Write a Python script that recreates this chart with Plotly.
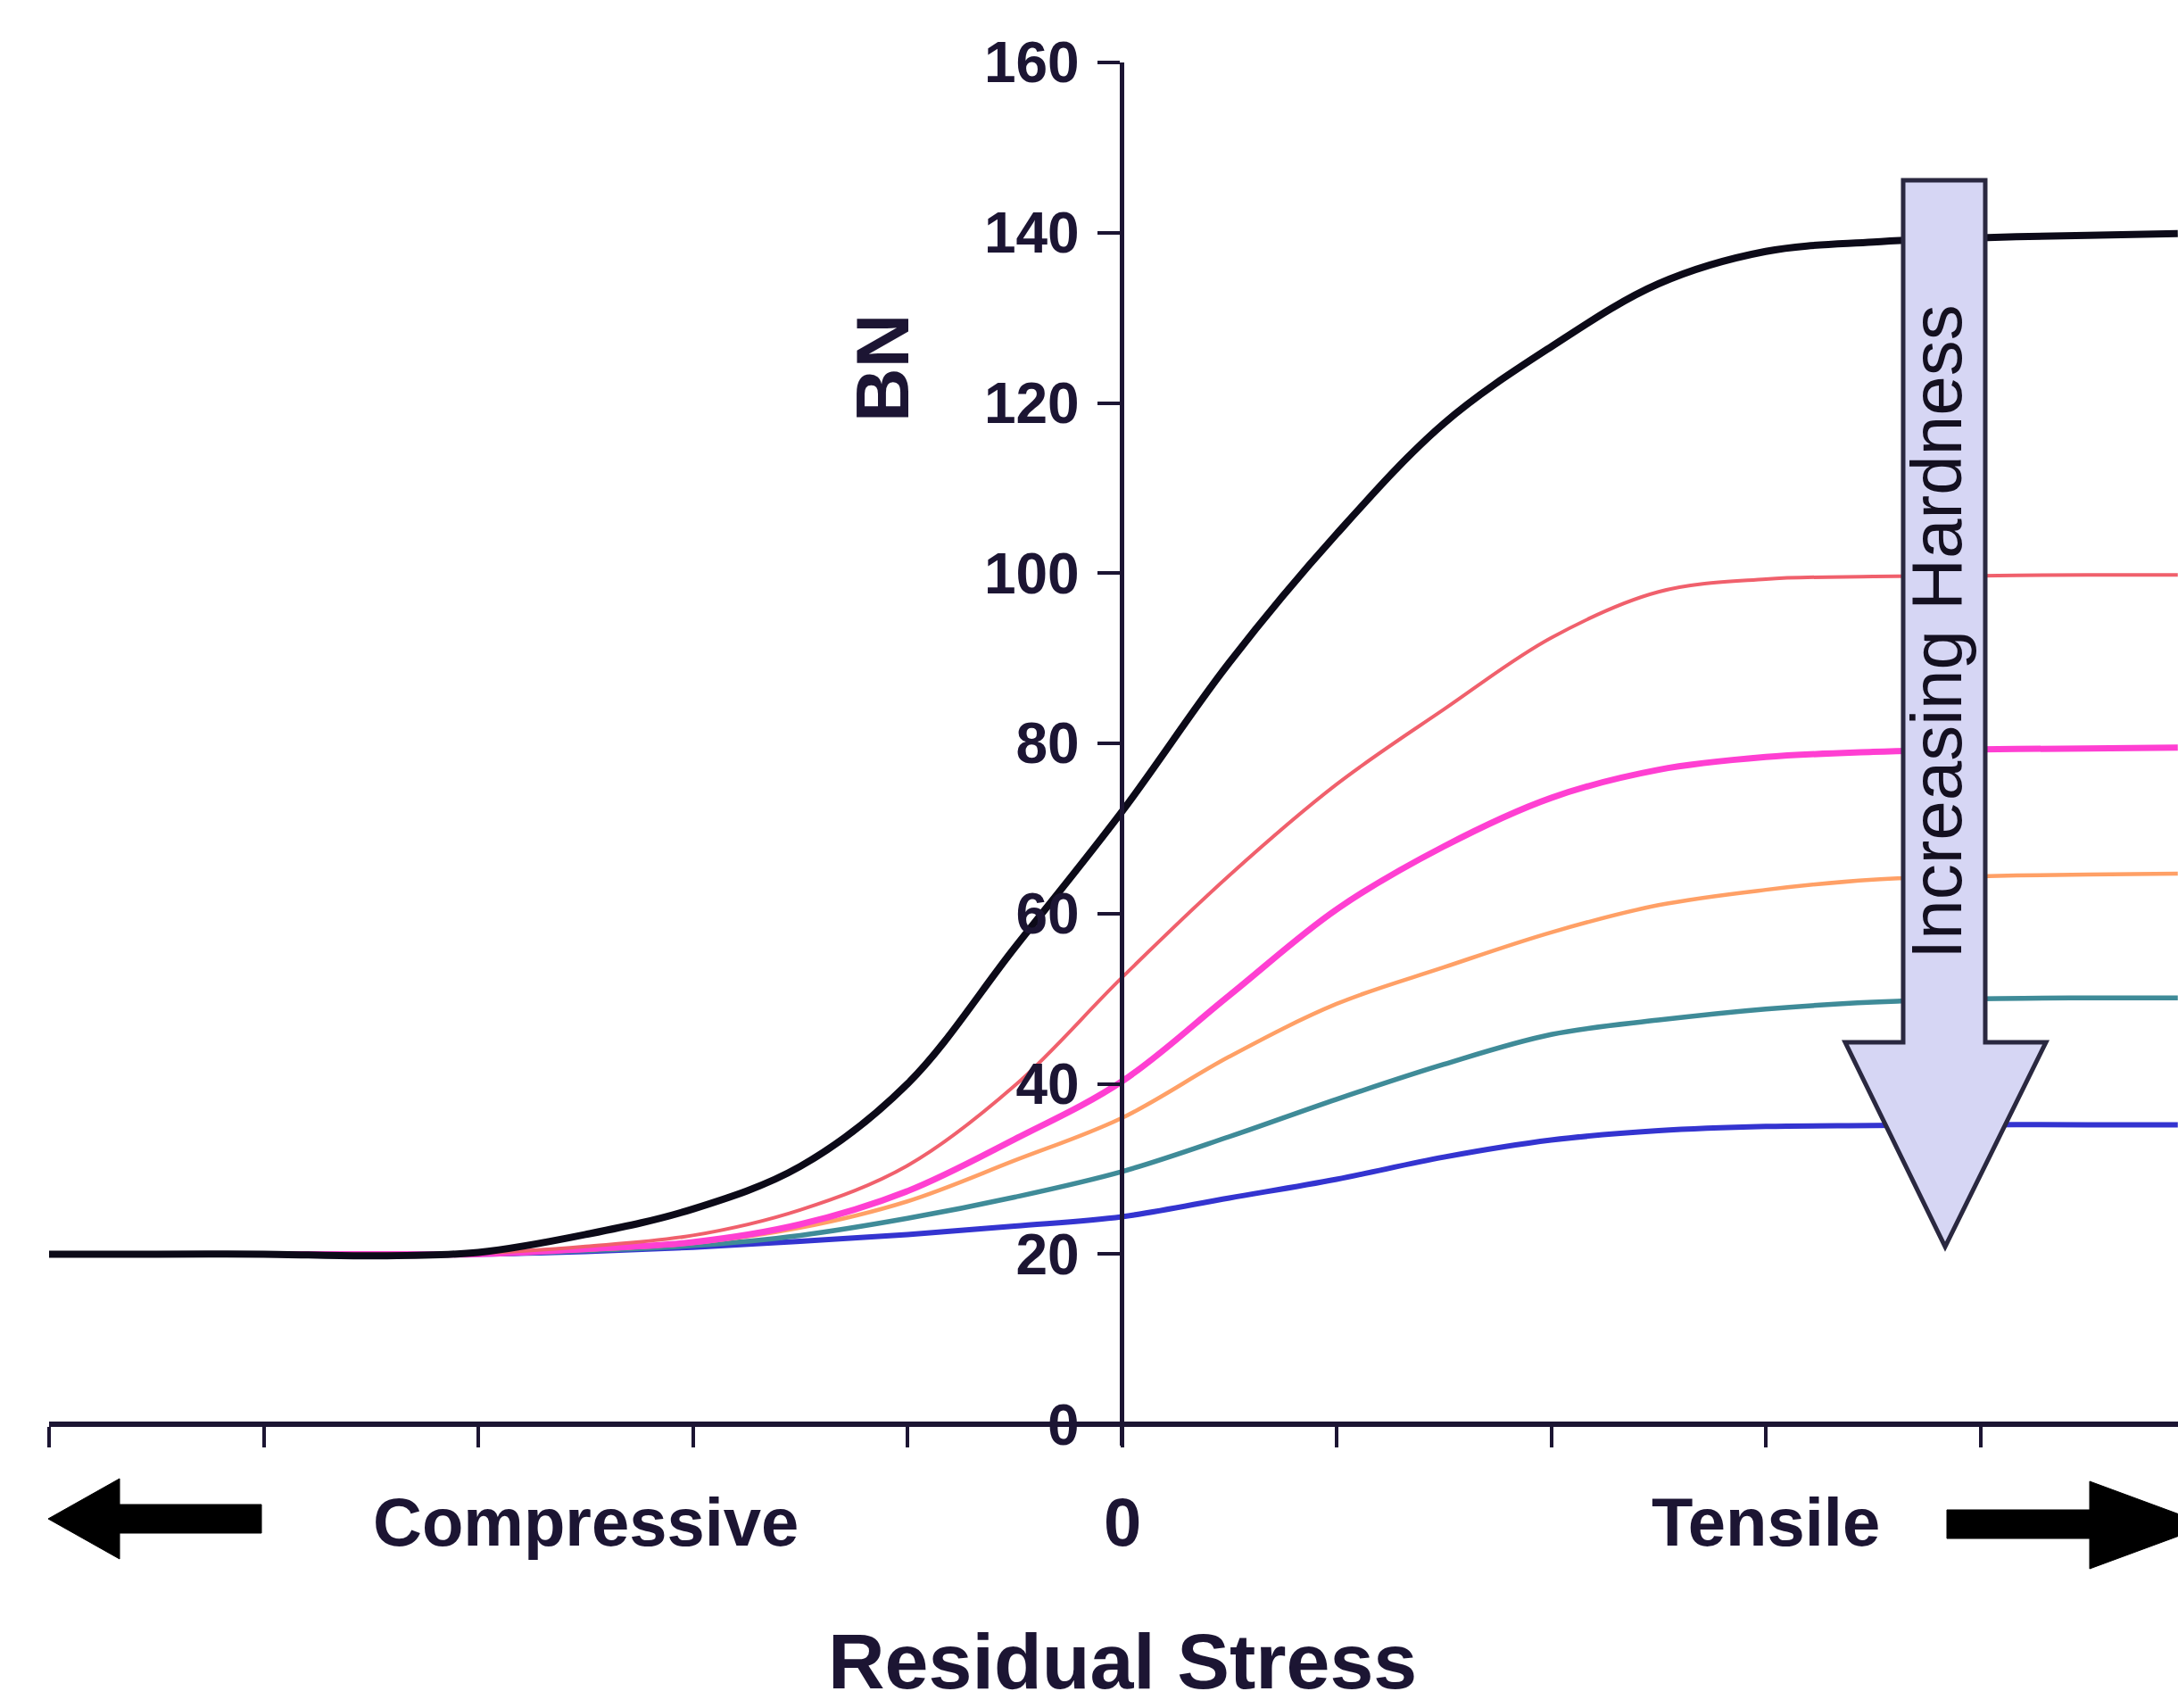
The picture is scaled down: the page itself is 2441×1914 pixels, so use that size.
import plotly.graph_objects as go

# ---------------- data ----------------
stress = [-5, -4.5, -4, -3.5, -3, -2.5, -2, -1.5, -1, -0.5, 0, 0.5, 1, 1.5, 2, 2.5, 3, 3.5, 4, 4.5, 4.92]

bn_black   = [20, 20, 20, 19.8, 20.2, 22.3, 25.3, 30.3, 40.0, 56.0, 72.0, 89.5, 104.6, 117.6, 126.6, 134.0, 137.8, 138.9, 139.4, 139.7, 139.9]
bn_red     = [20, 20, 20, 20.0, 20.1, 20.9, 22.2, 25.2, 30.4, 39.8, 52.5, 64.5, 75.2, 84.0, 92.4, 97.8, 99.3, 99.6, 99.7, 99.8, 99.8]
bn_magenta = [20, 20, 20, 20.0, 20.0, 20.6, 21.4, 23.5, 27.4, 33.5, 40.3, 50.4, 60.5, 67.9, 73.6, 76.9, 78.4, 79.0, 79.3, 79.4, 79.5]
bn_orange  = [20, 20, 20, 20.0, 20.0, 20.5, 21.3, 23.1, 26.2, 31.0, 36.0, 43.2, 49.4, 53.7, 57.8, 61.0, 62.8, 64.0, 64.4, 64.6, 64.7]
bn_teal    = [20, 20, 20, 20.0, 20.0, 20.4, 21.0, 22.2, 24.2, 26.7, 29.7, 33.8, 38.2, 42.3, 45.8, 47.5, 48.8, 49.6, 50.0, 50.1, 50.1]
bn_blue    = [20, 20, 20, 20.0, 20.0, 20.3, 20.8, 21.5, 22.3, 23.3, 24.4, 26.6, 28.8, 31.4, 33.4, 34.5, 35.0, 35.1, 35.2, 35.2, 35.2]

y_ticks = [0, 20, 40, 60, 80, 100, 120, 140, 160]
x_ticks = [-5, -4, -3, -2, -1, 0, 1, 2, 3, 4]
x_label_pos = [-2.5, 0, 3]
x_label_text = ["Compressive", "0", "Tensile"]

series = [
    ("blue", bn_blue, "#3434d0", 6),
    ("teal", bn_teal, "#3f8b98", 5.5),
    ("orange", bn_orange, "#ffa066", 4.5),
    ("magenta", bn_magenta, "#ff3fd2", 7),
    ("red", bn_red, "#f0606c", 4),
    ("black", bn_black, "#0c0a18", 8),
]

INK = "#1c1533"
FONT = "Liberation Sans, Arial, sans-serif"

W, H = 2441, 1914
ML, MR, MT, MB = 55, 0, 70, 294
XR = [-5, 4.921]
YR = [-2.5, 160]

fig = go.Figure()
for name, vals, col, w in series:
    fig.add_trace(go.Scatter(x=stress, y=vals, mode="lines", name=name,
                             line=dict(color=col, width=w, shape="spline", smoothing=1.0),
                             hoverinfo="skip", showlegend=False))

PW = W - ML - MR
PH = H - MT - MB


def px(X, Y):
    return (X - ML) / PW, (H - MB - Y) / PH


def path(points):
    s = ""
    for i, (X, Y) in enumerate(points):
        a, b = px(X, Y)
        s += ("M" if i == 0 else "L") + f"{a:.5f},{b:.5f} "
    return s + "Z"


shapes = []
# big "Increasing Hardness" arrow
shapes.append(dict(type="path", xref="paper", yref="paper",
                   path=path([(2133, 202), (2225, 202), (2225, 1168), (2293, 1168),
                              (2180, 1397), (2068, 1168), (2133, 1168)]),
                   fillcolor="#d6d6f4", line=dict(color="#2a2840", width=5), layer="above"))
# compressive arrow (left)
shapes.append(dict(type="path", xref="paper", yref="paper",
                   path=path([(54, 1702), (134, 1657), (134, 1686), (293, 1686),
                              (293, 1718), (134, 1718), (134, 1747)]),
                   fillcolor="#000000", line=dict(color="#000000", width=1)))
# tensile arrow (right)
shapes.append(dict(type="path", xref="paper", yref="paper",
                   path=path([(2182, 1692), (2342, 1692), (2342, 1660), (2475, 1709),
                              (2342, 1758), (2342, 1724), (2182, 1724)]),
                   fillcolor="#000000", line=dict(color="#000000", width=1)))

annotations = []
for pos, txt in zip(x_label_pos, x_label_text):
    annotations.append(dict(x=pos, xref="x", y=px(0, 1705)[1], yref="paper",
                            text=txt, showarrow=False, xanchor="center", yanchor="middle",
                            font=dict(family=FONT, size=76, color=INK, weight="bold")))
annotations.append(dict(x=0, xref="x", y=px(0, 1861)[1], yref="paper",
                        text="Residual Stress", showarrow=False, xanchor="center", yanchor="middle",
                        font=dict(family=FONT, size=88, color=INK, weight="bold")))
bx, by = px(989, 413)
annotations.append(dict(x=bx, xref="paper", y=by, yref="paper", text="BN", textangle=-90,
                        showarrow=False, xanchor="center", yanchor="middle",
                        font=dict(family=FONT, size=84, color=INK, weight="bold")))
hx, hy = px(2170, 708)
annotations.append(dict(x=hx, xref="paper", y=hy, yref="paper", text="Increasing Hardness",
                        textangle=-90, showarrow=False, xanchor="center", yanchor="middle",
                        font=dict(family=FONT, size=80, color="#141020")))

fig.update_layout(
    width=W, height=H,
    margin=dict(l=ML, r=MR, t=MT, b=MB, pad=0),
    paper_bgcolor="white", plot_bgcolor="white",
    shapes=shapes, annotations=annotations,
    xaxis=dict(range=XR, anchor="free", position=(0 - YR[0]) / (YR[1] - YR[0]),
               showgrid=False, zeroline=False, showline=True, linecolor=INK, linewidth=6,
               ticks="outside", ticklen=23, tickwidth=4, tickcolor=INK,
               tickmode="array", tickvals=x_ticks, showticklabels=False),
    yaxis=dict(range=YR, anchor="free", position=(0 - XR[0]) / (XR[1] - XR[0]),
               showgrid=False, zeroline=False, showline=True, linecolor=INK, linewidth=5,
               ticks="outside", ticklen=25, tickwidth=4, tickcolor=INK,
               tickmode="array", tickvals=y_ticks, ticklabelstandoff=8,
               tickfont=dict(family=FONT, size=64, color=INK, weight="bold")),
)

fig.write_html("out.html", config={"displayModeBar": False})
